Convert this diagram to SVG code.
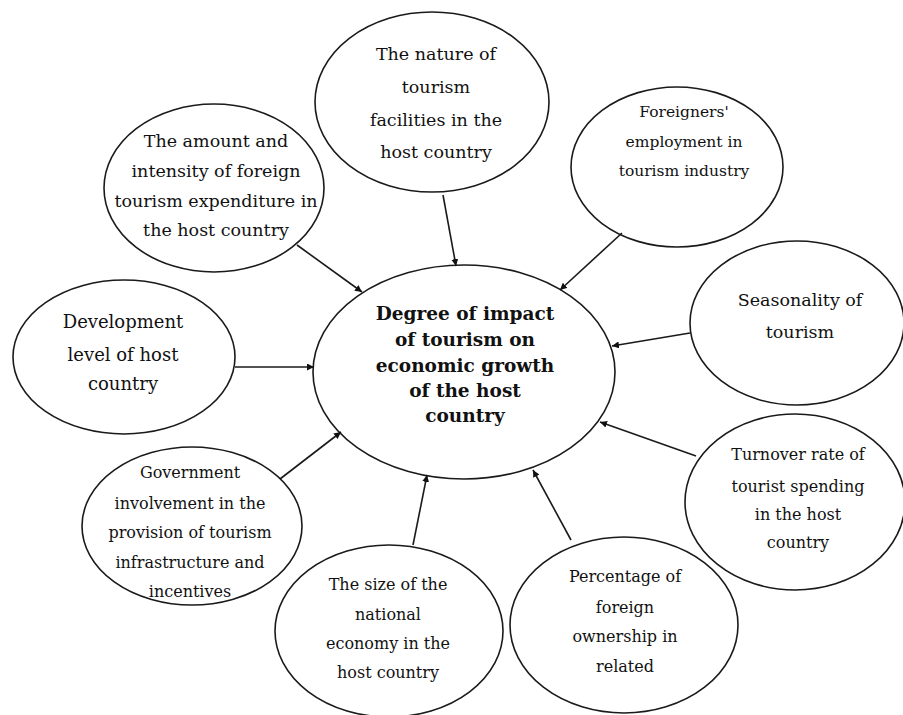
<svg xmlns="http://www.w3.org/2000/svg" width="903" height="715" viewBox="0 0 903 715">
  <style>
    .bubble { fill: #ffffff; stroke: #1a1a1a; stroke-width: 1.6; }
    .lbl { font-family: "DejaVu Serif", "Liberation Serif", serif; fill: #111; text-anchor: middle; }
    .big { font-size: 18px; }
    .mid { font-size: 17.5px; }
    .sm { font-size: 16px; }
    .xs { font-size: 15.5px; }
    .hub { font-family: "DejaVu Serif", "Liberation Serif", serif; font-weight: bold; font-size: 18.5px; fill: #111; text-anchor: middle; }
    .link { stroke: #1a1a1a; stroke-width: 1.6; fill: none; marker-end: url(#head); }
  </style>
  <defs>
    <marker id="head" viewBox="0 0 10 10" refX="10" refY="5" markerWidth="7" markerHeight="7" markerUnits="userSpaceOnUse" orient="auto">
      <path d="M0,0 L10,5 L0,10 z" fill="#111"/>
    </marker>
  </defs>
  <rect width="903" height="715" fill="#ffffff"/>

  <!-- central node -->
  <g id="hub">
    <ellipse class="bubble" cx="464" cy="372" rx="151" ry="107"/>
    <text class="hub" x="465" y="320">Degree of impact</text>
    <text class="hub" x="465" y="346">of tourism on</text>
    <text class="hub" x="465" y="372">economic growth</text>
    <text class="hub" x="465" y="397">of the host</text>
    <text class="hub" x="465" y="422">country</text>
  </g>

  <g id="expenditure">
    <ellipse class="bubble" cx="214" cy="188" rx="110" ry="84"/>
    <text class="lbl mid" x="216" y="147">The amount and</text>
    <text class="lbl mid" x="216" y="177">intensity of foreign</text>
    <text class="lbl mid" x="216" y="207">tourism expenditure in</text>
    <text class="lbl mid" x="216" y="236">the host country</text>
  </g>

  <g id="facilities">
    <ellipse class="bubble" cx="432" cy="102" rx="117" ry="90"/>
    <text class="lbl mid" x="436" y="60">The nature of</text>
    <text class="lbl mid" x="436" y="93">tourism</text>
    <text class="lbl mid" x="436" y="126">facilities in the</text>
    <text class="lbl mid" x="436" y="158">host country</text>
  </g>

  <g id="employment">
    <ellipse class="bubble" cx="677" cy="167" rx="106" ry="80"/>
    <text class="lbl xs" x="684" y="117">Foreigners'</text>
    <text class="lbl xs" x="684" y="147">employment in</text>
    <text class="lbl xs" x="684" y="176">tourism industry</text>
  </g>

  <g id="development">
    <ellipse class="bubble" cx="124" cy="357" rx="111" ry="77"/>
    <text class="lbl big" x="123" y="328">Development</text>
    <text class="lbl big" x="123" y="361">level of host</text>
    <text class="lbl big" x="123" y="390">country</text>
  </g>

  <g id="seasonality">
    <ellipse class="bubble" cx="797" cy="323" rx="107" ry="82"/>
    <text class="lbl mid" x="800" y="306">Seasonality of</text>
    <text class="lbl mid" x="800" y="338">tourism</text>
  </g>

  <g id="government">
    <ellipse class="bubble" cx="192" cy="526" rx="110" ry="79"/>
    <text class="lbl sm" x="190" y="478">Government</text>
    <text class="lbl sm" x="190" y="509">involvement in the</text>
    <text class="lbl sm" x="190" y="538">provision of tourism</text>
    <text class="lbl sm" x="190" y="568">infrastructure and</text>
    <text class="lbl sm" x="190" y="597">incentives</text>
  </g>

  <g id="turnover">
    <ellipse class="bubble" cx="795" cy="502" rx="110" ry="88"/>
    <text class="lbl sm" x="798" y="460">Turnover rate of</text>
    <text class="lbl sm" x="798" y="492">tourist spending</text>
    <text class="lbl sm" x="798" y="520">in the host</text>
    <text class="lbl sm" x="798" y="548">country</text>
  </g>

  <g id="economy-size">
    <ellipse class="bubble" cx="389" cy="631" rx="114" ry="86"/>
    <text class="lbl sm" x="388" y="590">The size of the</text>
    <text class="lbl sm" x="388" y="620">national</text>
    <text class="lbl sm" x="388" y="649">economy in the</text>
    <text class="lbl sm" x="388" y="678">host country</text>
  </g>

  <g id="ownership">
    <ellipse class="bubble" cx="624" cy="625" rx="114" ry="88"/>
    <text class="lbl sm" x="625" y="582">Percentage of</text>
    <text class="lbl sm" x="625" y="613">foreign</text>
    <text class="lbl sm" x="625" y="642">ownership in</text>
    <text class="lbl sm" x="625" y="672">related</text>
  </g>

  <!-- connectors, each pointing into the hub -->
  <g id="connectors">
    <line class="link" x1="297" y1="245" x2="362" y2="292"/>
    <line class="link" x1="443" y1="195" x2="456" y2="266"/>
    <line class="link" x1="622" y1="233" x2="560" y2="290"/>
    <line class="link" x1="235" y1="367" x2="314" y2="367"/>
    <line class="link" x1="690" y1="333" x2="612" y2="346"/>
    <line class="link" x1="696" y1="456" x2="600" y2="422"/>
    <line class="link" x1="571" y1="540" x2="533" y2="470"/>
    <line class="link" x1="413" y1="545" x2="427" y2="475"/>
    <line class="link" x1="280" y1="479" x2="341" y2="432"/>
  </g>
</svg>
